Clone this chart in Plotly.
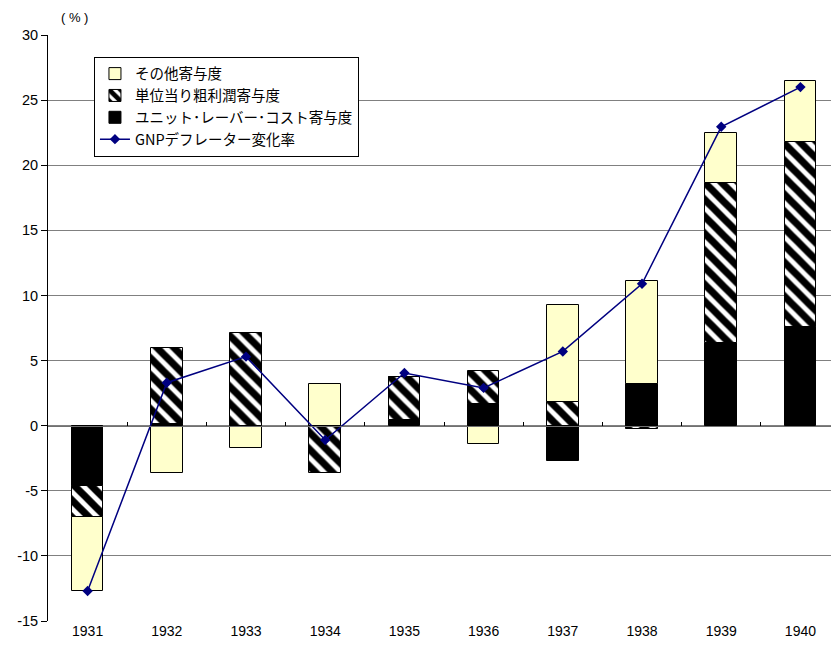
import plotly.graph_objects as go

years = ["1931", "1932", "1933", "1934", "1935", "1936", "1937", "1938", "1939", "1940"]
unit_labor_cost = [-4.6, 0.15, 0.0, 0.0, 0.4, 1.7, -2.7, 3.2, 6.35, 7.55]
unit_profit = [-2.4, 5.85, 7.1, -3.65, 3.35, 2.5, 1.85, -0.25, 12.3, 14.25]
other = [-5.7, -3.6, -1.7, 3.2, 0.0, -1.4, 7.45, 7.9, 3.8, 4.65]
gnp_deflator = [-12.7, 3.3, 5.3, -1.1, 4.05, 2.9, 5.7, 10.9, 22.95, 26.0]

y_ticks = [-15, -10, -5, 0, 5, 10, 15, 20, 25, 30]
y_ticktext = ["-15", "-10", "-5", "0", "5", "10", "15", "20", "25", "30"]

x = list(range(len(years)))
between = [i + 0.5 for i in range(len(years))]

jp_font = "Noto Sans CJK JP"
num_font = "Liberation Sans, Arial"
bar_w = 0.40
edge = dict(color="black", width=1)

fig = go.Figure()

fig.add_trace(go.Bar(
    x=x, y=unit_labor_cost, width=bar_w, name="ユニット･レーバー･コスト寄与度",
    marker=dict(color="black", line=edge), legendrank=3,
))
fig.add_trace(go.Bar(
    x=x, y=unit_profit, width=bar_w, name="単位当り粗利潤寄与度",
    marker=dict(color="white", line=edge,
                pattern=dict(shape="\\", fgcolor="black", bgcolor="white",
                             fgopacity=1, size=12, solidity=0.6)),
    legendrank=2,
))
fig.add_trace(go.Bar(
    x=x, y=other, width=bar_w, name="その他寄与度",
    marker=dict(color="#FFFFCC", line=edge), legendrank=1,
))
fig.add_trace(go.Scatter(
    x=x, y=gnp_deflator, mode="lines+markers", name="GNPデフレーター変化率",
    line=dict(color="#000080", width=1.5),
    marker=dict(symbol="diamond", size=8, color="#000080"),
    legendrank=4,
))

# axis running along zero with small ticks between categories
fig.add_trace(go.Scatter(x=[None], y=[None], xaxis="x2", yaxis="y",
                         showlegend=False, hoverinfo="skip"))
# gridlines layer
fig.add_trace(go.Scatter(x=[None], y=[None], xaxis="x", yaxis="y2",
                         showlegend=False, hoverinfo="skip"))

x_range = [-0.5, 9.386]
y_range = [-15, 30]

fig.update_layout(
    width=831, height=650,
    margin=dict(l=48, r=0, t=35, b=29),
    paper_bgcolor="white", plot_bgcolor="white",
    barmode="relative", bargap=0,
    showlegend=True,
    legend=dict(
        x=0.0587, y=0.963, xanchor="left", yanchor="top",
        bgcolor="white", bordercolor="black", borderwidth=1,
        font=dict(family=jp_font, size=14.5, color="black"),
        itemwidth=30, tracegroupgap=0,
    ),
    xaxis=dict(
        range=x_range, tickvals=x, ticktext=years, ticks="",
        showgrid=False, zeroline=False, showline=False,
        tickfont=dict(family=num_font, size=14, color="black"),
    ),
    xaxis2=dict(
        range=x_range, overlaying="x", anchor="free", position=1/3,
        side="bottom", showline=True, linecolor="#707070", linewidth=1,
        tickvals=between, ticks="inside", ticklen=4, tickcolor="black",
        showticklabels=False, showgrid=False, zeroline=False,
    ),
    yaxis=dict(
        range=y_range, tickvals=y_ticks, ticktext=y_ticktext,
        ticks="outside", ticklen=6, tickcolor="black",
        showline=True, linecolor="black", linewidth=1,
        showgrid=False, zeroline=False,
        tickfont=dict(family=num_font, size=14.5, color="black"),
    ),
    yaxis2=dict(
        range=y_range, overlaying="y", tickvals=y_ticks,
        showgrid=True, gridcolor="#808080", gridwidth=1,
        showticklabels=False, ticks="", zeroline=False, showline=False,
        layer="below traces",
    ),
    annotations=[dict(
        text="( % )", xref="paper", yref="paper", x=0.034, y=1.03,
        xanchor="center", yanchor="middle", showarrow=False,
        font=dict(family=num_font, size=13, color="black"),
    )],
)

fig.write_html("out.html")
